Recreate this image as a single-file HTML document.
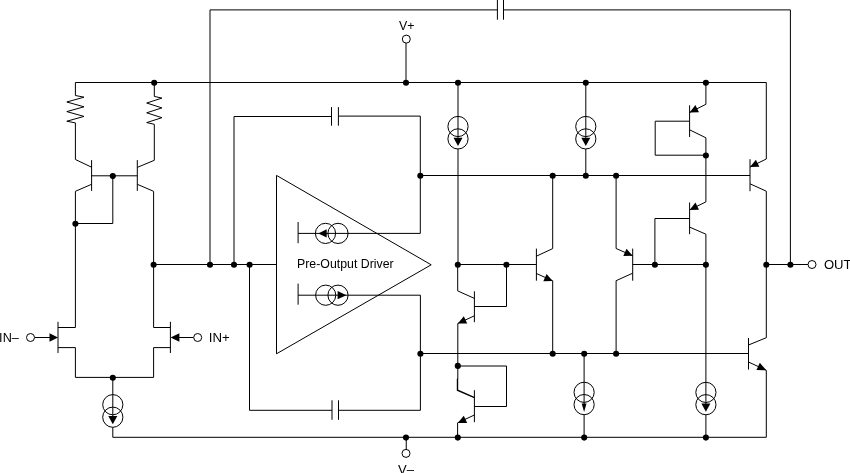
<!DOCTYPE html>
<html><head><meta charset="utf-8"><title>Schematic</title>
<style>
html,body{margin:0;padding:0;background:#fff;}
body{width:850px;height:473px;overflow:hidden;}
svg{display:block;will-change:transform;}
text{font-family:"Liberation Sans",sans-serif;font-size:12px;fill:#000;}
</style></head><body>
<svg width="850" height="473" viewBox="0 0 850 473">
<rect x="0" y="0" width="850" height="473" fill="#fff"/>
<path d="M210.00,264.50 L210.00,9.90 L497.40,9.90" fill="none" stroke="#000" stroke-width="1"/>
<path d="M503.50,9.90 L790.40,9.90 L790.40,264.50" fill="none" stroke="#000" stroke-width="1"/>
<path d="M497.40,0.00 L497.40,19.70" fill="none" stroke="#000" stroke-width="1"/>
<path d="M503.50,0.00 L503.50,19.70" fill="none" stroke="#000" stroke-width="1"/>
<path d="M75.40,82.50 L766.30,82.50 L766.30,159.00 L750.00,167.00" fill="none" stroke="#000" stroke-width="1"/>
<circle cx="154.20" cy="82.80" r="3.05" fill="#000"/>
<circle cx="406.00" cy="82.80" r="3.05" fill="#000"/>
<circle cx="458.00" cy="82.80" r="3.05" fill="#000"/>
<circle cx="585.80" cy="82.80" r="3.05" fill="#000"/>
<circle cx="705.90" cy="82.80" r="3.05" fill="#000"/>
<path d="M406.00,43.00 L406.00,82.50" fill="none" stroke="#000" stroke-width="1"/>
<circle cx="406.30" cy="39.10" r="4" fill="#fff" stroke="#000" stroke-width="1"/>
<text transform="translate(399.00,29.90) scale(1.03,1.11)" x="0" y="0">V+</text>
<path d="M406.25,437.30 L406.25,449.40" fill="none" stroke="#000" stroke-width="1"/>
<circle cx="406.00" cy="453.40" r="4" fill="#fff" stroke="#000" stroke-width="1"/>
<text transform="translate(398.00,474.15) scale(1.087,1.08)" x="0" y="0">V&#8211;</text>
<path d="M75.40,82.50 L75.40,95.50" fill="none" stroke="#000" stroke-width="1"/>
<path d="M75.40,95.50 L84.00,97.18 L66.80,101.99 L84.00,106.80 L66.80,111.60 L84.00,116.41 L66.80,121.22 L75.40,122.90" fill="none" stroke="#000" stroke-width="1"/>
<path d="M75.40,122.90 L75.40,159.50 L91.60,167.20" fill="none" stroke="#000" stroke-width="1"/>
<path d="M154.30,82.50 L154.30,96.40" fill="none" stroke="#000" stroke-width="1"/>
<path d="M154.30,96.40 L161.90,98.11 L146.70,103.01 L161.90,107.90 L146.70,112.80 L161.90,117.69 L146.70,122.59 L154.30,124.30" fill="none" stroke="#000" stroke-width="1"/>
<path d="M154.30,124.30 L154.30,160.30 L137.30,167.40" fill="none" stroke="#000" stroke-width="1"/>
<path d="M91.60,160.10 L91.60,190.90" fill="none" stroke="#000" stroke-width="1"/>
<path d="M137.30,160.10 L137.30,190.90" fill="none" stroke="#000" stroke-width="1"/>
<path d="M91.60,175.80 L137.30,175.80" fill="none" stroke="#000" stroke-width="1"/>
<circle cx="112.80" cy="176.10" r="3.05" fill="#000"/>
<path d="M112.80,175.80 L112.80,223.50 L75.40,223.50" fill="none" stroke="#000" stroke-width="1"/>
<circle cx="75.40" cy="223.80" r="3.05" fill="#000"/>
<path d="M91.60,184.30 L75.40,191.30 L75.40,327.50 L58.00,327.50" fill="none" stroke="#000" stroke-width="1"/>
<path d="M137.30,184.30 L153.60,191.30 L153.60,327.50 L170.40,327.50" fill="none" stroke="#000" stroke-width="1"/>
<path d="M58.00,321.80 L58.00,353.00" fill="none" stroke="#000" stroke-width="1"/>
<path d="M170.40,321.80 L170.40,353.00" fill="none" stroke="#000" stroke-width="1"/>
<path d="M58.00,347.60 L75.40,347.60 L75.40,377.40 L153.60,377.40 L153.60,347.60 L170.40,347.60" fill="none" stroke="#000" stroke-width="1"/>
<circle cx="112.80" cy="377.70" r="3.05" fill="#000"/>
<path d="M34.50,337.50 L50.00,337.50" fill="none" stroke="#000" stroke-width="1"/>
<polygon points="58.00,337.50 49.50,333.30 49.50,341.70" fill="#000"/>
<circle cx="30.50" cy="337.50" r="4" fill="#fff" stroke="#000" stroke-width="1"/>
<path d="M179.00,337.50 L193.70,337.50" fill="none" stroke="#000" stroke-width="1"/>
<polygon points="170.60,337.50 179.40,333.30 179.40,341.70" fill="#000"/>
<circle cx="197.70" cy="337.50" r="4" fill="#fff" stroke="#000" stroke-width="1"/>
<text transform="translate(-0.88,341.90) scale(1.057,1.0)" x="0" y="0">IN&#8211;</text>
<text transform="translate(208.80,341.90) scale(1.103,1.0)" x="0" y="0">IN+</text>
<circle cx="112.80" cy="404.70" r="10.1" fill="none" stroke="#000" stroke-width="1"/>
<circle cx="112.80" cy="417.20" r="10.1" fill="none" stroke="#000" stroke-width="1"/>
<path d="M112.80,377.40 L112.80,417.20" fill="none" stroke="#000" stroke-width="1"/>
<polygon points="108.30,416.00 117.30,416.00 112.80,424.30" fill="#000"/>
<path d="M112.80,427.30 L112.80,437.30" fill="none" stroke="#000" stroke-width="1"/>
<path d="M112.80,437.30 L766.30,437.30 L766.30,370.30 L748.50,362.00" fill="none" stroke="#000" stroke-width="1"/>
<circle cx="406.00" cy="437.60" r="3.05" fill="#000"/>
<circle cx="457.80" cy="437.60" r="3.05" fill="#000"/>
<circle cx="584.20" cy="437.60" r="3.05" fill="#000"/>
<circle cx="705.90" cy="437.60" r="3.05" fill="#000"/>
<path d="M153.60,264.50 L276.50,264.50" fill="none" stroke="#000" stroke-width="1"/>
<circle cx="153.60" cy="264.80" r="3.05" fill="#000"/>
<circle cx="210.00" cy="264.80" r="3.05" fill="#000"/>
<circle cx="234.00" cy="264.80" r="3.05" fill="#000"/>
<circle cx="249.60" cy="264.80" r="3.05" fill="#000"/>
<polygon points="276.5,175.4 431.2,264.8 276.5,353.8" fill="none" stroke="#000" stroke-width="1"/>
<text transform="translate(297.05,267.60) scale(1.028,1.0)" x="0" y="0">Pre-Output Driver</text>
<path d="M234.00,264.50 L234.00,116.50 L331.50,116.50" fill="none" stroke="#000" stroke-width="1"/>
<path d="M338.40,116.10 L420.30,116.10 L420.30,233.40 L298.10,233.40" fill="none" stroke="#000" stroke-width="1"/>
<path d="M331.50,107.10 L331.50,125.70" fill="none" stroke="#000" stroke-width="1"/>
<path d="M338.40,107.10 L338.40,125.70" fill="none" stroke="#000" stroke-width="1"/>
<path d="M298.10,222.00 L298.10,243.20" fill="none" stroke="#000" stroke-width="1"/>
<circle cx="325.50" cy="233.40" r="10.1" fill="none" stroke="#000" stroke-width="1"/>
<circle cx="338.00" cy="233.40" r="10.1" fill="none" stroke="#000" stroke-width="1"/>
<polygon points="318.30,233.40 326.70,229.30 326.70,237.50" fill="#000"/>
<circle cx="420.30" cy="175.80" r="3.05" fill="#000"/>
<path d="M249.50,264.50 L249.50,410.30 L332.00,410.30" fill="none" stroke="#000" stroke-width="1"/>
<path d="M338.50,410.30 L420.40,410.30 L420.40,295.20 L298.10,295.20" fill="none" stroke="#000" stroke-width="1"/>
<path d="M332.00,400.30 L332.00,419.80" fill="none" stroke="#000" stroke-width="1"/>
<path d="M338.50,400.30 L338.50,419.80" fill="none" stroke="#000" stroke-width="1"/>
<path d="M298.10,283.60 L298.10,304.70" fill="none" stroke="#000" stroke-width="1"/>
<circle cx="325.70" cy="295.20" r="10.1" fill="none" stroke="#000" stroke-width="1"/>
<circle cx="338.00" cy="295.20" r="10.1" fill="none" stroke="#000" stroke-width="1"/>
<polygon points="346.40,295.20 337.60,291.10 337.60,299.30" fill="#000"/>
<circle cx="420.40" cy="353.80" r="3.05" fill="#000"/>
<path d="M420.30,175.50 L750.00,175.50" fill="none" stroke="#000" stroke-width="1"/>
<path d="M420.40,353.50 L748.50,353.50" fill="none" stroke="#000" stroke-width="1"/>
<circle cx="552.70" cy="175.80" r="3.05" fill="#000"/>
<circle cx="585.80" cy="175.80" r="3.05" fill="#000"/>
<circle cx="616.10" cy="175.80" r="3.05" fill="#000"/>
<circle cx="552.70" cy="353.80" r="3.05" fill="#000"/>
<circle cx="584.20" cy="353.80" r="3.05" fill="#000"/>
<circle cx="616.10" cy="353.80" r="3.05" fill="#000"/>
<circle cx="458.00" cy="126.50" r="10.1" fill="none" stroke="#000" stroke-width="1"/>
<circle cx="458.00" cy="138.90" r="10.1" fill="none" stroke="#000" stroke-width="1"/>
<path d="M458.00,82.50 L458.00,138.90" fill="none" stroke="#000" stroke-width="1"/>
<polygon points="453.50,137.70 462.50,137.70 458.00,146.00" fill="#000"/>
<path d="M458.00,149.00 L458.00,264.50" fill="none" stroke="#000" stroke-width="1"/>
<path d="M457.70,264.50 L457.70,290.90" fill="none" stroke="#000" stroke-width="1"/>
<path d="M457.70,290.90 L474.40,298.40" fill="none" stroke="#000" stroke-width="1"/>
<circle cx="457.80" cy="264.80" r="3.05" fill="#000"/>
<path d="M474.40,291.30 L474.40,322.20" fill="none" stroke="#000" stroke-width="1"/>
<path d="M474.40,306.50 L506.50,306.50 L506.50,264.50" fill="none" stroke="#000" stroke-width="1"/>
<circle cx="506.40" cy="264.80" r="3.05" fill="#000"/>
<path d="M474.40,315.80 L457.80,323.50 L457.80,379.00" fill="none" stroke="#000" stroke-width="1"/>
<path d="M457.50,378.80 L457.50,390.20 L474.50,397.60" fill="none" stroke="#000" stroke-width="1.4"/>
<polygon points="457.80,323.50 463.83,316.29 467.19,323.55" fill="#000"/>
<circle cx="457.80" cy="365.90" r="3.05" fill="#000"/>
<path d="M457.80,366.00 L506.50,366.00 L506.50,406.50 L474.40,406.50" fill="none" stroke="#000" stroke-width="1"/>
<path d="M474.40,390.20 L474.40,422.20" fill="none" stroke="#000" stroke-width="1"/>
<path d="M474.40,415.00 L457.60,422.80 L457.60,437.30" fill="none" stroke="#000" stroke-width="1"/>
<polygon points="457.80,423.00 463.79,415.76 467.19,423.00" fill="#000"/>
<path d="M457.80,264.50 L536.40,264.50" fill="none" stroke="#000" stroke-width="1"/>
<path d="M536.40,248.60 L536.40,280.70" fill="none" stroke="#000" stroke-width="1"/>
<path d="M536.40,256.20 L552.70,248.60 L552.70,175.50" fill="none" stroke="#000" stroke-width="1"/>
<path d="M536.40,273.50 L552.70,280.80 L552.70,353.50" fill="none" stroke="#000" stroke-width="1"/>
<polygon points="552.70,281.00 543.31,281.18 546.58,273.88" fill="#000"/>
<circle cx="585.80" cy="126.50" r="10.1" fill="none" stroke="#000" stroke-width="1"/>
<circle cx="585.80" cy="138.90" r="10.1" fill="none" stroke="#000" stroke-width="1"/>
<path d="M585.80,82.50 L585.80,138.90" fill="none" stroke="#000" stroke-width="1"/>
<polygon points="581.30,137.70 590.30,137.70 585.80,146.00" fill="#000"/>
<path d="M585.80,149.00 L585.80,175.50" fill="none" stroke="#000" stroke-width="1"/>
<circle cx="584.10" cy="392.30" r="10.1" fill="none" stroke="#000" stroke-width="1"/>
<circle cx="584.10" cy="404.60" r="10.1" fill="none" stroke="#000" stroke-width="1"/>
<path d="M584.10,353.50 L584.10,404.60" fill="none" stroke="#000" stroke-width="1"/>
<polygon points="581.70,403.40 586.50,403.40 584.10,411.90" fill="#000"/>
<path d="M584.10,414.70 L584.10,437.30" fill="none" stroke="#000" stroke-width="1"/>
<path d="M616.10,175.50 L616.10,248.50 L632.70,255.80" fill="none" stroke="#000" stroke-width="1"/>
<polygon points="632.70,255.80 623.31,256.04 626.53,248.72" fill="#000"/>
<path d="M632.70,248.60 L632.70,280.70" fill="none" stroke="#000" stroke-width="1"/>
<path d="M632.70,273.20 L616.10,280.70 L616.10,353.50" fill="none" stroke="#000" stroke-width="1"/>
<path d="M632.70,264.50 L705.90,264.50" fill="none" stroke="#000" stroke-width="1"/>
<circle cx="654.90" cy="264.80" r="3.05" fill="#000"/>
<circle cx="705.90" cy="264.80" r="3.05" fill="#000"/>
<path d="M705.90,82.50 L705.90,104.30 L689.60,112.50" fill="none" stroke="#000" stroke-width="1"/>
<polygon points="689.60,112.50 695.40,105.11 698.99,112.25" fill="#000"/>
<path d="M689.60,105.30 L689.60,137.00" fill="none" stroke="#000" stroke-width="1"/>
<path d="M689.60,121.20 L655.20,121.20 L655.20,155.20 L705.90,155.20" fill="none" stroke="#000" stroke-width="1"/>
<circle cx="705.90" cy="155.50" r="3.05" fill="#000"/>
<path d="M689.60,129.80 L705.90,137.80 L705.90,201.90 L689.60,209.90" fill="none" stroke="#000" stroke-width="1"/>
<polygon points="689.60,209.90 695.47,202.56 698.99,209.75" fill="#000"/>
<path d="M689.60,202.50 L689.60,234.20" fill="none" stroke="#000" stroke-width="1"/>
<path d="M689.60,218.50 L654.90,218.50 L654.90,264.50" fill="none" stroke="#000" stroke-width="1"/>
<path d="M689.60,227.10 L705.90,234.20 L705.90,380.00" fill="none" stroke="#000" stroke-width="1"/>
<circle cx="705.90" cy="392.40" r="10.1" fill="none" stroke="#000" stroke-width="1"/>
<circle cx="705.90" cy="404.70" r="10.1" fill="none" stroke="#000" stroke-width="1"/>
<path d="M705.90,380.00 L705.90,404.70" fill="none" stroke="#000" stroke-width="1"/>
<polygon points="701.40,403.50 710.40,403.50 705.90,411.80" fill="#000"/>
<path d="M705.90,414.80 L705.90,437.30" fill="none" stroke="#000" stroke-width="1"/>
<polygon points="750.00,167.00 755.87,159.66 759.39,166.85" fill="#000"/>
<path d="M750.00,159.20 L750.00,191.20" fill="none" stroke="#000" stroke-width="1"/>
<path d="M750.00,183.80 L766.30,191.20 L766.30,337.70 L748.50,345.00" fill="none" stroke="#000" stroke-width="1"/>
<path d="M748.50,338.00 L748.50,369.60" fill="none" stroke="#000" stroke-width="1"/>
<polygon points="766.30,370.30 756.45,370.12 759.83,362.87" fill="#000"/>
<circle cx="766.30" cy="264.80" r="3.05" fill="#000"/>
<circle cx="790.40" cy="264.80" r="3.05" fill="#000"/>
<path d="M766.30,264.50 L808.00,264.50" fill="none" stroke="#000" stroke-width="1"/>
<circle cx="812.00" cy="264.50" r="4" fill="#fff" stroke="#000" stroke-width="1"/>
<text transform="translate(823.95,268.80) scale(1.09,1.0)" x="0" y="0">OUT</text>
</svg>
</body></html>
